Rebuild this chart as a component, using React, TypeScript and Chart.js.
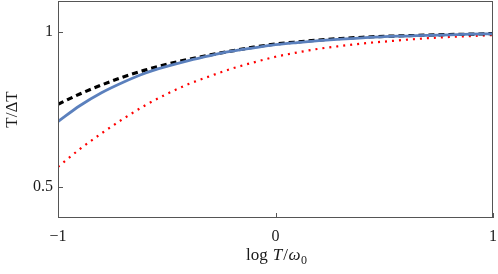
import React, { useEffect, useRef } from "react";
import { Chart, registerables } from "chart.js";

Chart.register(...registerables);

// x = log T/ω0
const xValues = [-1, -0.9, -0.8, -0.7, -0.6, -0.5, -0.4, -0.3, -0.2, -0.1, 0, 0.1, 0.2, 0.3, 0.4, 0.5, 0.6, 0.7, 0.8, 0.9, 1];
const blueValues = [0.711, 0.762, 0.804, 0.838, 0.867, 0.889, 0.908, 0.924, 0.938, 0.949, 0.959, 0.966, 0.972, 0.977, 0.981, 0.985, 0.987, 0.989, 0.991, 0.993, 0.994];
const blackValues = [0.767, 0.8, 0.829, 0.855, 0.877, 0.896, 0.912, 0.926, 0.939, 0.951, 0.961, 0.968, 0.974, 0.979, 0.983, 0.986, 0.988, 0.99, 0.992, 0.993, 0.995];
const redValues = [0.565, 0.622, 0.673, 0.72, 0.763, 0.8, 0.832, 0.858, 0.882, 0.902, 0.92, 0.934, 0.946, 0.955, 0.963, 0.969, 0.975, 0.98, 0.984, 0.987, 0.99];
const xTicks = [-1, 0, 1];
const yTicks = [0.5, 1];
const yTitle = "T/ΔT";

const SERIF = '"Liberation Serif", "DejaVu Serif", "Times New Roman", serif';

const toPoints = (ys: number[]) => xValues.map((x, i) => ({ x, y: ys[i] }));

const framePlugin = {
  id: "frameAndTitles",
  afterDraw(chart: any) {
    const { ctx, chartArea: a, scales } = chart;
    ctx.save();
    ctx.strokeStyle = "#555";
    ctx.lineWidth = 1;
    ctx.strokeRect(a.left + 0.5, a.top + 0.5, a.right - a.left - 1, a.bottom - a.top - 1);
    ctx.beginPath();
    for (const v of xTicks) {
      const px = Math.round(scales.x.getPixelForValue(v)) + 0.5;
      ctx.moveTo(px, a.bottom);
      ctx.lineTo(px, a.bottom - 5);
    }
    for (const v of yTicks) {
      const py = Math.round(scales.y.getPixelForValue(v)) + 0.5;
      ctx.moveTo(a.left, py);
      ctx.lineTo(a.left + 5, py);
    }
    ctx.stroke();

    // x title: log T/ω0  (segment, font, gap before, baseline shift)
    ctx.fillStyle = "#1a1a1a";
    ctx.textBaseline = "alphabetic";
    ctx.textAlign = "left";
    const segs: [string, string, number, number][] = [
      ["log", `17px ${SERIF}`, 0, 0],
      ["T", `italic 17px ${SERIF}`, 5, 0],
      ["/", `17px ${SERIF}`, 1, 0],
      ["ω", `italic 17px ${SERIF}`, 0.5, 0],
      ["0", `12px ${SERIF}`, 0.5, 4],
    ];
    let total = 0;
    for (const [t, f, g] of segs) {
      ctx.font = f;
      total += g + ctx.measureText(t).width;
    }
    let x = (a.left + a.right) / 2 - total / 2 + 1;
    const baseY = 259.5;
    for (const [t, f, g, dy] of segs) {
      ctx.font = f;
      x += g;
      ctx.fillText(t, x, baseY + dy);
      x += ctx.measureText(t).width;
    }

    // y title
    ctx.translate(13, (a.top + a.bottom) / 2);
    ctx.rotate(-Math.PI / 2);
    ctx.font = `17px ${SERIF}`;
    ctx.textAlign = "center";
    ctx.textBaseline = "middle";
    ctx.fillText(yTitle, 0, 0);
    ctx.restore();
  },
};

export default function App() {
  const ref = useRef<HTMLCanvasElement | null>(null);
  useEffect(() => {
    document.body.style.margin = "0";
    const canvas = ref.current!;
    const chart = new Chart(canvas, {
      type: "line",
      data: {
        datasets: [
          {
            label: "blue",
            data: toPoints(blueValues),
            borderColor: "#5b80bd",
            borderWidth: 2.8,
            pointRadius: 0,
            cubicInterpolationMode: "monotone",
            order: 0,
          },
          {
            label: "black",
            data: toPoints(blackValues),
            borderColor: "#000",
            borderWidth: 3.2,
            borderDash: [6, 4],
            pointRadius: 0,
            cubicInterpolationMode: "monotone",
            order: 1,
          },
          {
            label: "red",
            data: toPoints(redValues),
            borderColor: "#ff0000",
            borderWidth: 2.2,
            borderDash: [2, 5],
            pointRadius: 0,
            cubicInterpolationMode: "monotone",
            order: 2,
          },
        ],
      },
      options: {
        responsive: false,
        animation: false,
        layout: { padding: { top: 1, right: 5, left: 0, bottom: 0 } },
        plugins: { legend: { display: false }, tooltip: { enabled: false } },
        scales: {
          x: {
            type: "linear",
            min: -1,
            max: 1,
            grid: { display: false, drawTicks: false },
            border: { display: false },
            afterBuildTicks: (s: any) => {
              s.ticks = xTicks.map((v) => ({ value: v }));
            },
            afterFit: (s: any) => {
              s.height = 56;
              s.paddingLeft = 0;
              s.paddingRight = 0;
            },
            ticks: {
              padding: 9,
              color: "#1a1a1a",
              font: { family: SERIF, size: 16 },
              maxRotation: 0,
              callback: (v: any) => (Number(v) < 0 ? "−" + Math.abs(Number(v)) : String(v)),
            },
          },
          y: {
            type: "linear",
            min: 0.4,
            max: 1.1,
            grid: { display: false, drawTicks: false },
            border: { display: false },
            afterBuildTicks: (s: any) => {
              s.ticks = yTicks.map((v) => ({ value: v }));
            },
            afterFit: (s: any) => {
              s.width = 58;
              s.paddingTop = 0;
              s.paddingBottom = 0;
            },
            ticks: {
              padding: 5,
              color: "#1a1a1a",
              font: { family: SERIF, size: 16 },
              callback: (v: any) => String(v),
            },
          },
        },
      },
      plugins: [framePlugin],
    });
    return () => chart.destroy();
  }, []);
  return (
    <div style={{ position: "absolute", left: 0, top: 0, width: 498, height: 274, background: "#fff" }}>
      <canvas ref={ref} width={498} height={274} />
    </div>
  );
}
